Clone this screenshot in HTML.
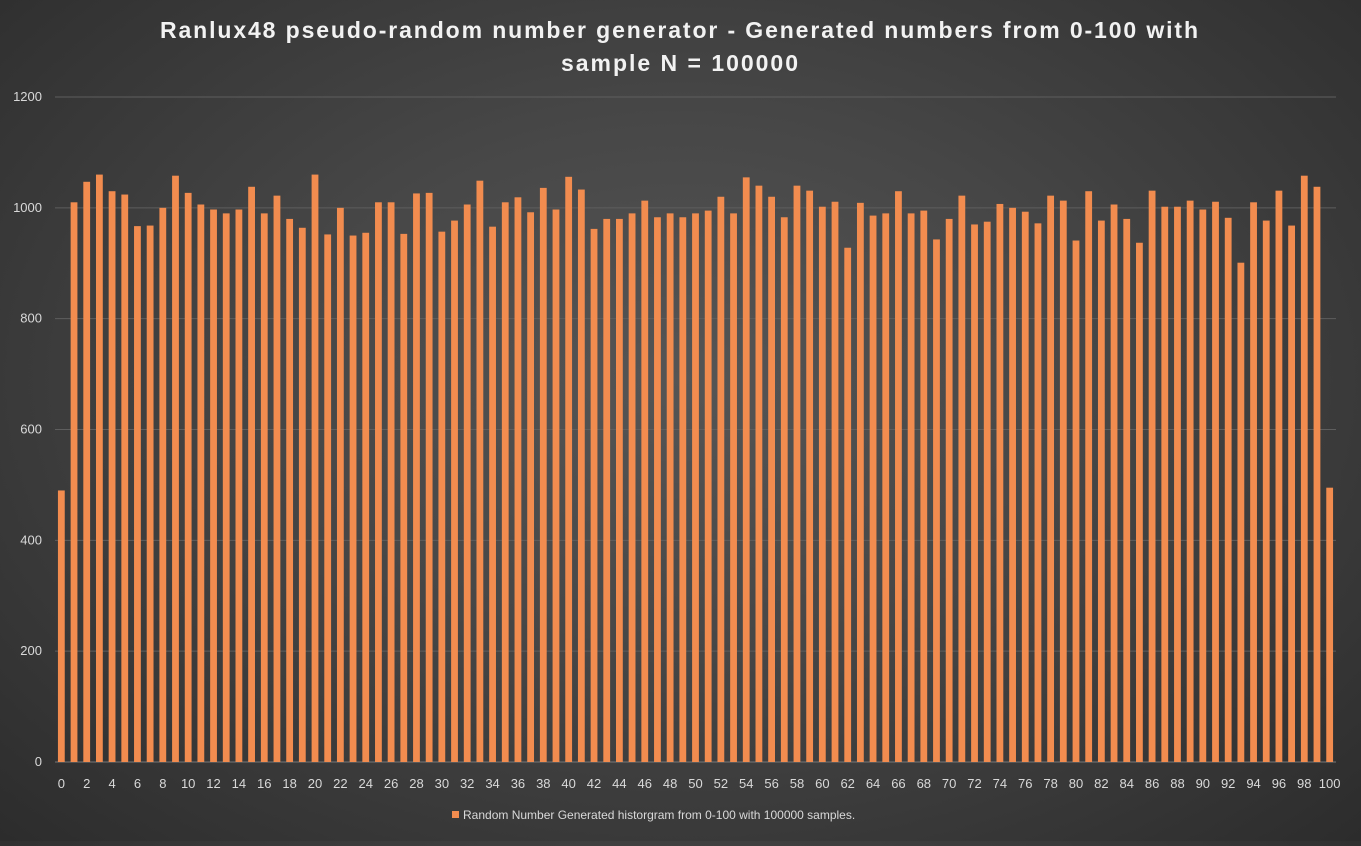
<!DOCTYPE html>
<html><head><meta charset="utf-8"><style>
html,body{margin:0;padding:0}
body{width:1361px;height:841px;overflow:hidden;background:radial-gradient(ellipse at 50% 45%,#555 0%,#474747 40%,#2c2c2c 100%);font-family:"Liberation Sans",sans-serif}
</style></head><body>
<svg id="chart" width="1361" height="841" xmlns="http://www.w3.org/2000/svg">
<text x="160" y="38" textLength="1038" lengthAdjust="spacing" fill="#f2f2f2" font-size="23" font-weight="bold" font-family="Liberation Sans, sans-serif">Ranlux48 pseudo-random number generator - Generated numbers from 0-100 with</text>
<text x="561" y="71" textLength="237" lengthAdjust="spacing" fill="#f2f2f2" font-size="23" font-weight="bold" font-family="Liberation Sans, sans-serif">sample N = 100000</text>
<g id="grid"></g><g id="bars"></g><g id="yt"></g><g id="xt"></g>
<rect x="452" y="811" width="7" height="7" fill="#f28c4f"/>
<text x="463" y="819" fill="#d9d9d9" font-size="12" font-family="Liberation Sans, sans-serif">Random Number Generated historgram from 0-100 with 100000 samples.</text>
</svg>
<script>
const categories=[];for(let i=0;i<=100;i++)categories.push(i);
const values=[490,1010,1047,1060,1030,1024,967,968,1000,1058,1027,1006,997,990,997,1038,990,1022,980,964,1060,952,1000,950,955,1010,1010,953,1026,1027,957,977,1006,1049,966,1010,1019,992,1036,997,1056,1033,962,980,980,990,1013,983,990,983,990,995,1020,990,1055,1040,1020,983,1040,1031,1002,1011,928,1009,986,990,1030,990,995,943,980,1022,970,975,1007,1000,993,972,1022,1013,941,1030,977,1006,980,937,1031,1002,1002,1013,997,1011,982,901,1010,977,1031,968,1058,1038,495];
const yTicks=[0,200,400,600,800,1000,1200];
const NS="http://www.w3.org/2000/svg";
const L=55,R=1336,T=97,B=762,YMAX=1200;
const y=v=>B-(v/YMAX)*(B-T);
const cw=(R-L)/categories.length;
const x=i=>L+cw*(i+0.5);
function mk(t,a,p){const e=document.createElementNS(NS,t);for(const k in a)e.setAttribute(k,a[k]);p.appendChild(e);return e;}
const G=document.getElementById('grid'),Bg=document.getElementById('bars'),YT=document.getElementById('yt'),XT=document.getElementById('xt');
yTicks.forEach(v=>{
 const ln=mk('line',{x1:L,x2:R,y1:y(v),y2:y(v),stroke:v===0?'#777':'#5e5e5e','stroke-width':1},G);
 
 
 const t=mk('text',{x:42,y:y(v)+4,'text-anchor':'end',fill:'#d9d9d9','font-size':13},YT);
 t.textContent=v;
 
 
});
values.forEach((v,i)=>{
 const r=mk('rect',{x:x(i)-3.4,y:y(v),width:6.8,height:B-y(v),fill:'#f28c4f'},Bg);
 
 
});
categories.forEach((c,i)=>{
 if(c%2)return;
 const t=mk('text',{x:x(i),y:788,'text-anchor':'middle',fill:'#d9d9d9','font-size':13},XT);
 t.textContent=c;
 
 
});
</script>
</body></html>
